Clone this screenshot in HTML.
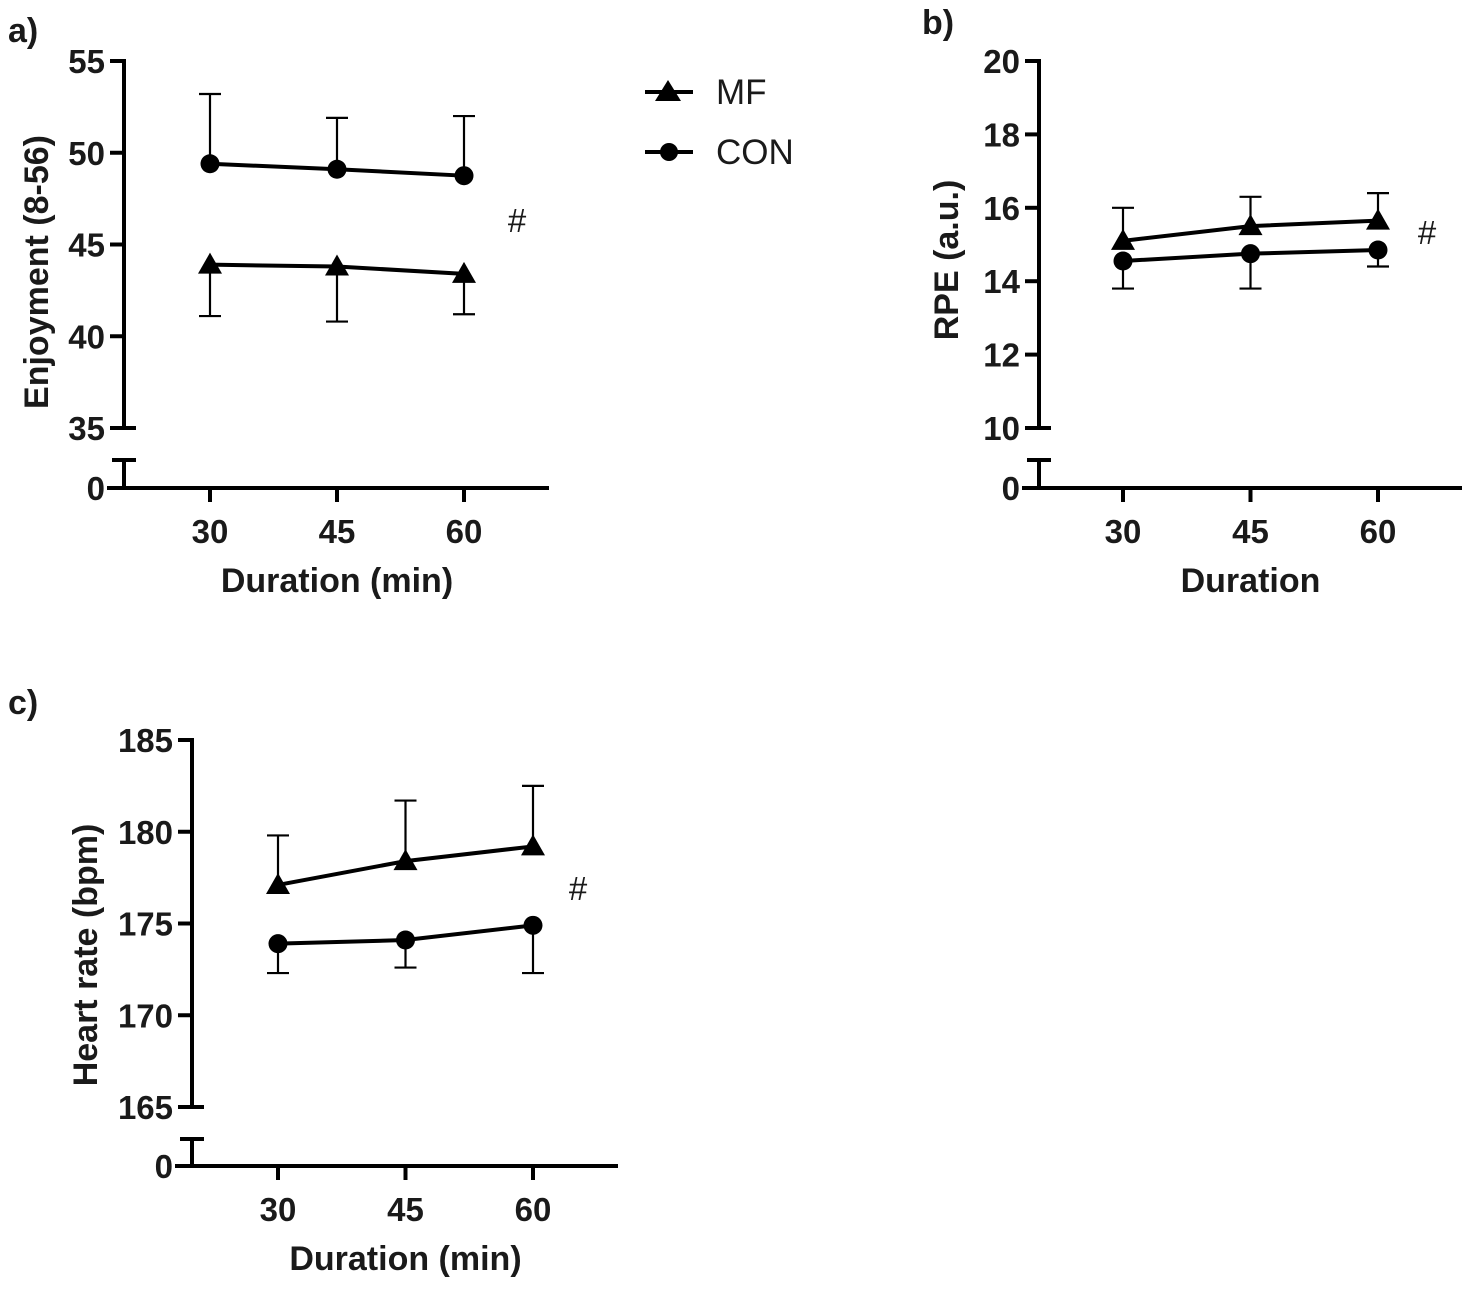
<!DOCTYPE html>
<html><head><meta charset="utf-8"><style>
html,body{margin:0;padding:0;background:#fff;}
svg{display:block;font-family:"Liberation Sans",Arial,sans-serif;}
.tk{font-weight:bold;font-size:33px;fill:#1a1a1a;}
.tt{font-weight:bold;font-size:34px;fill:#1a1a1a;}
</style></head><body>
<svg id="chart" width="1477" height="1289" viewBox="0 0 1477 1289">
<text x="8" y="42" class="tt">a)</text>
<text x="922" y="34" class="tt">b)</text>
<text x="8" y="714" class="tt">c)</text>
<g>
  <g>
    <line x1="645" y1="92" x2="693" y2="92" stroke="#000" stroke-width="4"/>
    <polygon points="668,80 681,101 655,101" fill="#000"/>
    <text x="716" y="104" font-size="35" fill="#1a1a1a">MF</text>
  </g>
  <g>
    <line x1="645" y1="152" x2="693" y2="152" stroke="#000" stroke-width="4"/>
    <circle cx="669" cy="152" r="9" fill="#000"/>
    <text x="716" y="164" font-size="35" fill="#1a1a1a">CON</text>
  </g>
</g>
</svg>
<script>
const xCats = [30, 45, 60];
// panel a
const aMF = [43.9, 43.8, 43.4];
const aMFerr = [41.1, 40.8, 41.2];
const aCON = [49.4, 49.1, 48.75];
const aCONerr = [53.2, 51.9, 52.0];
const aTicks = [35, 40, 45, 50, 55];
// panel b
const bMF = [15.1, 15.5, 15.65];
const bMFerr = [16.0, 16.3, 16.4];
const bCON = [14.55, 14.75, 14.85];
const bCONerr = [13.8, 13.8, 14.4];
const bTicks = [10, 12, 14, 16, 18, 20];
// panel c
const cMF = [177.1, 178.4, 179.2];
const cMFerr = [179.8, 181.7, 182.5];
const cCON = [173.9, 174.1, 174.9];
const cCONerr = [172.3, 172.6, 172.3];
const cTicks = [165, 170, 175, 180, 185];

const NS = "http://www.w3.org/2000/svg";
const svg = document.getElementById('chart');
function mk(tag, attrs, parent){
  const e = document.createElementNS(NS, tag);
  for (const k in attrs) e.setAttribute(k, attrs[k]);
  (parent||svg).appendChild(e); return e;
}
function panel(o){
  const g = mk('g', {});
  
  
  const ymin = o.ticks[0], ymax = o.ticks[o.ticks.length-1];
  const Y = v => o.yBot + (v - ymin) / (ymax - ymin) * (o.yTop - o.yBot);
  const X = c => o.x30 + (c - 30) / 15 * o.xStep;
  const ax = mk('g', {}, g);
  
  
  mk('line', {x1:o.ax, y1:o.yTop-2, x2:o.ax, y2:o.yBot, stroke:'#000','stroke-width':4}, ax);
  o.ticks.forEach(t => {
    mk('line', {x1:o.ax-14, y1:Y(t), x2:o.ax, y2:Y(t), stroke:'#000','stroke-width':4}, ax);
    const tx = mk('text', {x:o.ax-19, y:Y(t)+12, 'text-anchor':'end', class:'tk'}, ax);
    tx.textContent = t;
  });
  mk('line', {x1:o.ax, y1:o.yBot, x2:o.ax+12, y2:o.yBot, stroke:'#000','stroke-width':4}, ax);
  mk('line', {x1:o.ax, y1:o.yBrk, x2:o.ax, y2:o.yZero, stroke:'#000','stroke-width':4}, ax);
  mk('line', {x1:o.ax-12, y1:o.yBrk, x2:o.ax+12, y2:o.yBrk, stroke:'#000','stroke-width':4}, ax);
  const z = mk('text', {x:o.ax-19, y:o.yZero+12, 'text-anchor':'end', class:'tk'}, ax); z.textContent = '0';
  const xa = mk('g', {}, g);
  
  
  mk('line', {x1:o.ax-17, y1:o.yZero, x2:o.xEnd, y2:o.yZero, stroke:'#000','stroke-width':4}, xa);
  xCats.forEach(c => {
    mk('line', {x1:X(c), y1:o.yZero, x2:X(c), y2:o.yZero+14, stroke:'#000','stroke-width':4}, xa);
    const t = mk('text', {x:X(c), y:o.yZero+55, 'text-anchor':'middle', class:'tk'}, xa); t.textContent = c;
  });
  const xt = mk('text', {x:X(45), y:o.yZero+104, 'text-anchor':'middle', class:'tt'}, g);
  
  
  xt.textContent = o.xTitle;
  const yt = mk('text', {x:0, y:0, 'text-anchor':'middle', class:'tt', transform:`translate(${o.ytX},${o.ytY}) rotate(-90)`}, g);
  
  
  yt.textContent = o.yTitle;
  [['mf', o.mf, o.mfErr], ['con', o.con, o.conErr]].forEach(([nm, vals, errs]) => {
    const sg = mk('g', {}, g);
    
    
    vals.forEach((v, i) => {
      const e = mk('g', {}, sg);
      
      
      mk('line', {x1:X(xCats[i]), y1:Y(v), x2:X(xCats[i]), y2:Y(errs[i]), stroke:'#000','stroke-width':2.2}, e);
      mk('line', {x1:X(xCats[i])-11, y1:Y(errs[i]), x2:X(xCats[i])+11, y2:Y(errs[i]), stroke:'#000','stroke-width':2.2}, e);
    });
    const pl = mk('polyline', {points: vals.map((v,i)=>X(xCats[i])+','+Y(v)).join(' '), fill:'none', stroke:'#000','stroke-width':4}, sg);
    
    
    vals.forEach((v, i) => {
      const cx = X(xCats[i]), cy = Y(v);
      let m;
      if (nm === 'mf') m = mk('polygon', {points:`${cx},${cy-12} ${cx+12},${cy+9} ${cx-12},${cy+9}`, fill:'#000'}, sg);
      else m = mk('circle', {cx:cx, cy:cy, r:9.5, fill:'#000'}, sg);
      
      
    });
  });
  const h = mk('text', {x:o.hashX, y:o.hashY, 'text-anchor':'middle', 'font-size':33, fill:'#1a1a1a'}, g);
  
  
  h.textContent = '#';
}
panel({name:'panel-a', ticks:aTicks, mf:aMF, mfErr:aMFerr, con:aCON, conErr:aCONerr,
  ax:124, yTop:61, yBot:428, yBrk:460, yZero:488, x30:210, xStep:127, xEnd:549,
  xTitle:'Duration (min)', yTitle:'Enjoyment (8-56)', ytX:48, ytY:272, hashX:517, hashY:232});
panel({name:'panel-b', ticks:bTicks, mf:bMF, mfErr:bMFerr, con:bCON, conErr:bCONerr,
  ax:1039, yTop:61, yBot:428, yBrk:460, yZero:488, x30:1123, xStep:127.5, xEnd:1462,
  xTitle:'Duration', yTitle:'RPE (a.u.)', ytX:958, ytY:260, hashX:1427, hashY:244});
panel({name:'panel-c', ticks:cTicks, mf:cMF, mfErr:cMFerr, con:cCON, conErr:cCONerr,
  ax:192, yTop:740, yBot:1107, yBrk:1139, yZero:1166, x30:278, xStep:127.5, xEnd:618,
  xTitle:'Duration (min)', yTitle:'Heart rate (bpm)', ytX:97, ytY:955, hashX:578, hashY:900});
</script>
</body></html>
